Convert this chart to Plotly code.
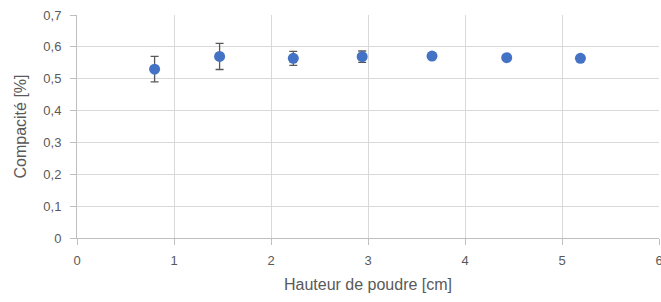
import plotly.graph_objects as go

hauteur = [0.80, 1.47, 2.23, 2.94, 3.66, 4.43, 5.19]
compacite = [0.530, 0.570, 0.564, 0.569, 0.571, 0.566, 0.564]
erreur = [0.040, 0.041, 0.022, 0.018, 0.005, 0.006, 0.004]
x_ticks = [0, 1, 2, 3, 4, 5, 6]
y_ticks = [0, 0.1, 0.2, 0.3, 0.4, 0.5, 0.6, 0.7]
y_labels = ["0", "0,1", "0,2", "0,3", "0,4", "0,5", "0,6", "0,7"]

fig = go.Figure()
fig.add_trace(go.Scatter(
    x=hauteur, y=compacite, mode="markers",
    marker=dict(color="#4472C4", size=11),
    error_y=dict(type="data", array=erreur, visible=True,
                 color="#595959", thickness=1.3, width=4),
    showlegend=False,
))

font = "Liberation Sans, Arial, sans-serif"
fig.update_layout(
    width=661, height=302,
    margin=dict(l=77, r=2, t=15, b=64),
    paper_bgcolor="white", plot_bgcolor="white",
    font=dict(family=font, size=13, color="#595959"),
    xaxis=dict(range=[0, 6], tickvals=x_ticks, showgrid=True,
               gridcolor="#D9D9D9", gridwidth=1, zeroline=False,
               showline=True, linecolor="#BFBFBF", linewidth=1,
               ticks="outside", ticklen=6, tickcolor="#BFBFBF",
               automargin=False, ticklabeloverflow="allow",
               ticklabelstandoff=4,
               title=dict(text="Hauteur de poudre [cm]", standoff=12),
               tickfont=dict(size=13)),
    yaxis=dict(range=[0, 0.7], tickvals=y_ticks, ticktext=y_labels,
               showgrid=True, gridcolor="#D9D9D9", gridwidth=1,
               zeroline=False, showline=True, linecolor="#BFBFBF",
               linewidth=1, ticks="outside", ticklen=6, tickcolor="#BFBFBF",
               automargin=False, ticklabelstandoff=6,
               title=dict(text="Compacité [%]", standoff=12),
               tickfont=dict(size=13)),
)
fig.write_html("out.html", config={"displayModeBar": False},
               post_script="document.body.style.margin='0';document.body.style.overflow='hidden';")
